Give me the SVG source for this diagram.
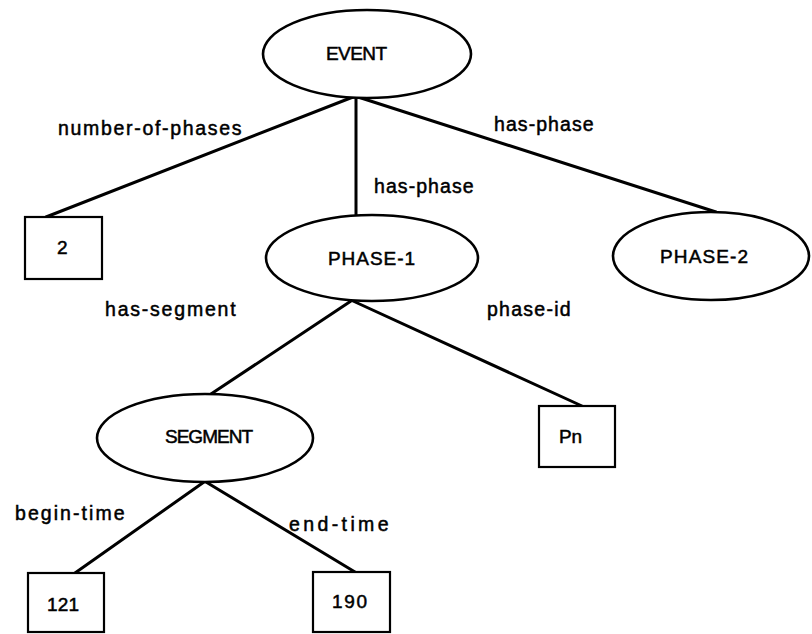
<svg xmlns="http://www.w3.org/2000/svg" width="812" height="634" viewBox="0 0 812 634">
<style>
.bg{fill:#fff}
.ell{fill:#fff;stroke:#000;stroke-width:2.6}
.box{fill:#fff;stroke:#000;stroke-width:2.2}
.edge{stroke:#000;stroke-width:3;fill:none;stroke-linecap:round}
.lbl{font-family:"Liberation Sans",Arial,sans-serif;font-size:19.5px;letter-spacing:1.4px;fill:#000;stroke:#000;stroke-width:0.5}
.nt{font-family:"Liberation Sans",Arial,sans-serif;font-size:19px;fill:#000;stroke:#000;stroke-width:0.5}
</style>
<rect class="bg" x="0" y="0" width="812" height="634"/>
<g id="connectors">
<line class="edge" x1="353" y1="97" x2="46" y2="217"/>
<line class="edge" x1="356" y1="97" x2="356" y2="215"/>
<line class="edge" x1="358" y1="97" x2="716" y2="212"/>
<line class="edge" x1="351" y1="301" x2="211" y2="394"/>
<line class="edge" x1="353" y1="301" x2="582" y2="406"/>
<line class="edge" x1="204" y1="482" x2="75" y2="573"/>
<line class="edge" x1="206" y1="482" x2="355" y2="572"/>
<text class="lbl" x="58" y="135" textLength="185">number-of-phases</text>
<text class="lbl" x="494" y="131" textLength="101">has-phase</text>
<text class="lbl" x="374" y="193" textLength="101">has-phase</text>
<text class="lbl" x="105" y="316" textLength="132">has-segment</text>
<text class="lbl" x="487" y="316" textLength="85">phase-id</text>
<text class="lbl" x="15" y="520" textLength="111">begin-time</text>
<text class="lbl" x="289" y="531" textLength="101">end-time</text>
</g>
<g id="event">
<ellipse class="ell" cx="367" cy="54" rx="104" ry="44"/>
<text class="nt" x="326" y="60" font-size="20" textLength="61">EVENT</text>
</g>
<g id="phase1">
<ellipse class="ell" cx="372" cy="258" rx="106" ry="43"/>
<text class="nt" x="328" y="265" textLength="87">PHASE-1</text>
</g>
<g id="phase2">
<ellipse class="ell" cx="711" cy="256" rx="98" ry="44"/>
<text class="nt" x="660" y="263" textLength="88">PHASE-2</text>
</g>
<g id="segment">
<ellipse class="ell" cx="205" cy="438" rx="108" ry="44"/>
<text class="nt" x="165" y="443" font-size="20" textLength="88">SEGMENT</text>
</g>
<g id="box2">
<rect class="box" x="25" y="217" width="77" height="62"/>
<text class="nt" x="57" y="254">2</text>
</g>
<g id="boxPn">
<rect class="box" x="539" y="406" width="76" height="61"/>
<text class="nt" x="559" y="443" textLength="23">Pn</text>
</g>
<g id="box121">
<rect class="box" x="28" y="573" width="76" height="59"/>
<text class="nt" x="47" y="611" textLength="32">121</text>
</g>
<g id="box190">
<rect class="box" x="313" y="572" width="77" height="60"/>
<text class="nt" x="332" y="608" textLength="35">190</text>
</g>
</svg>
